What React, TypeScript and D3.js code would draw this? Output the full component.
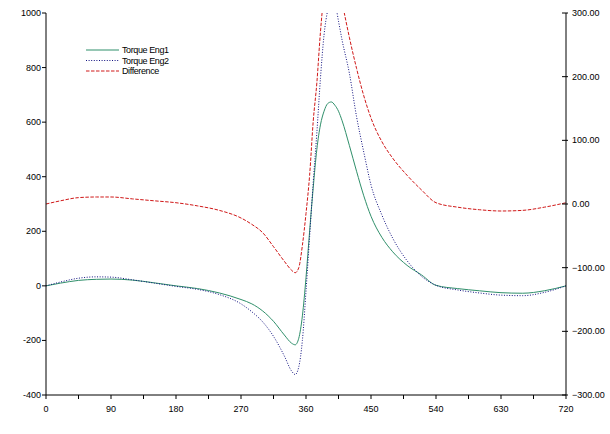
import * as React from "react";
import * as d3 from "d3";

// crank angle (deg) where the curves were sampled
const angles = [
  0, 20, 45, 70, 90, 120, 150, 180, 210, 240, 270, 285, 300, 315, 330, 340, 345, 350, 355, 360,
  365, 370, 375, 380, 385, 390, 395, 400, 405, 410, 420, 430, 440, 450, 465, 480, 500, 520, 540,
  570, 600, 630, 660, 690, 720,
];

const torqueEng1 = [
  0, 10, 20, 24, 25, 21, 11, 0, -10, -26, -50, -66, -92, -130, -180, -210, -216, -192, -110, 30,
  200, 360, 500, 590, 640, 668, 674, 662, 640, 605, 515, 420, 330, 255, 178, 125, 75, 40, 2,
  -10, -18, -25, -27, -18, 0,
];

const torqueEng2 = [
  0, 14, 28, 33, 32, 22, 10, -2, -13, -32, -66, -95, -132, -185, -257, -312, -325, -297, -200, -20,
  180, 380, 560, 760, 920, 1010, 1060, 1040, 970, 900, 780, 620, 490, 370, 260, 175, 92, 35, 2,
  -15, -26, -34, -36, -24, 0,
];

// plotted on the right-hand axis
const difference = [
  0, 5, 10, 11, 11, 8, 5, 2, -3, -10, -22, -32, -45, -67, -90, -104, -108, -100, -65, -15,
  45, 130, 190, 270, 330, 360, 390, 380, 350, 318, 262, 213, 170, 135, 98, 72, 45, 22, 2,
  -5, -9, -11, -10, -5, 2,
];

const xTicks = d3.range(0, 721, 45);
const xLabels = d3.range(0, 721, 90);
const leftTicks = [-400, -200, 0, 200, 400, 600, 800, 1000];
const rightTicks = [-300, -200, -100, 0, 100, 200, 300];

const legendNames = ["Torque Eng1", "Torque Eng2", "Difference"];

export default function App() {
  const ref = React.useRef<SVGSVGElement>(null);

  React.useEffect(() => {
    const svg = d3.select(ref.current);
    svg.selectAll("*").remove();

    const left = 46;
    const right = 566;
    const top = 13;
    const bottom = 395;
    const font = "Arial, 'Liberation Sans', sans-serif";

    const x = d3.scaleLinear().domain([0, 720]).range([left, right]);
    const yL = d3.scaleLinear().domain([-400, 1000]).range([bottom, top]);
    const yR = d3.scaleLinear().domain([-300, 300]).range([bottom, top]);

    svg
      .append("defs")
      .append("clipPath")
      .attr("id", "plot")
      .append("rect")
      .attr("x", left)
      .attr("y", top)
      .attr("width", right - left)
      .attr("height", bottom - top);

    const series = [
      { vals: torqueEng1, y: yL, color: "#2f8f6a", dash: null },
      { vals: torqueEng2, y: yL, color: "#101080", dash: "1,1.6" },
      { vals: difference, y: yR, color: "#d01818", dash: "3.5,1.5" },
    ];

    const g = svg.append("g").attr("clip-path", "url(#plot)");
    series.forEach((s) => {
      const line = d3
        .line<number>()
        .x((_, i) => x(angles[i]))
        .y((d) => s.y(d))
        .curve(d3.curveMonotoneX);
      g.append("path")
        .attr("d", line(s.vals))
        .attr("fill", "none")
        .attr("stroke", s.color)
        .attr("stroke-width", 1)
        .attr("stroke-dasharray", s.dash);
    });

    // axes lines
    const axes = svg.append("g").attr("stroke", "#000").attr("stroke-width", 1);
    axes.append("line").attr("x1", left).attr("x2", left).attr("y1", top).attr("y2", bottom);
    axes.append("line").attr("x1", right).attr("x2", right).attr("y1", top).attr("y2", bottom);
    axes.append("line").attr("x1", left).attr("x2", right).attr("y1", bottom).attr("y2", bottom);

    xTicks.forEach((t) => {
      axes
        .append("line")
        .attr("x1", x(t))
        .attr("x2", x(t))
        .attr("y1", bottom)
        .attr("y2", bottom + 4);
    });
    leftTicks.forEach((t) => {
      axes
        .append("line")
        .attr("x1", left - 4)
        .attr("x2", left)
        .attr("y1", yL(t))
        .attr("y2", yL(t));
    });
    rightTicks.forEach((t) => {
      axes
        .append("line")
        .attr("x1", right - 4)
        .attr("x2", right + 2)
        .attr("y1", yR(t))
        .attr("y2", yR(t));
    });

    const labels = svg
      .append("g")
      .attr("font-family", font)
      .attr("font-size", "9px")
      .attr("fill", "#000");

    xLabels.forEach((t) => {
      labels
        .append("text")
        .attr("x", x(t))
        .attr("y", bottom + 17)
        .attr("text-anchor", "middle")
        .text(t);
    });
    leftTicks.forEach((t) => {
      labels
        .append("text")
        .attr("x", left - 5)
        .attr("y", yL(t) + 3)
        .attr("text-anchor", "end")
        .text(t);
    });
    rightTicks.forEach((t) => {
      labels
        .append("text")
        .attr("x", right + 6)
        .attr("y", yR(t) + 3)
        .text(d3.format(".2f")(t));
    });

    // legend
    const legend = svg.append("g");
    legendNames.forEach((name, i) => {
      const ly = 50 + i * 10.5;
      legend
        .append("line")
        .attr("x1", 86)
        .attr("x2", 119)
        .attr("y1", ly)
        .attr("y2", ly)
        .attr("stroke", series[i].color)
        .attr("stroke-width", 1)
        .attr("stroke-dasharray", series[i].dash);
      legend
        .append("text")
        .attr("x", 122)
        .attr("y", ly + 3)
        .attr("font-family", font)
        .attr("font-size", "9px")
        .attr("letter-spacing", "-0.4px")
        .text(name);
    });
  }, []);

  return (
    <svg
      ref={ref}
      width={610}
      height={434}
      style={{ position: "absolute", left: 0, top: 0, background: "#fff" }}
    />
  );
}
